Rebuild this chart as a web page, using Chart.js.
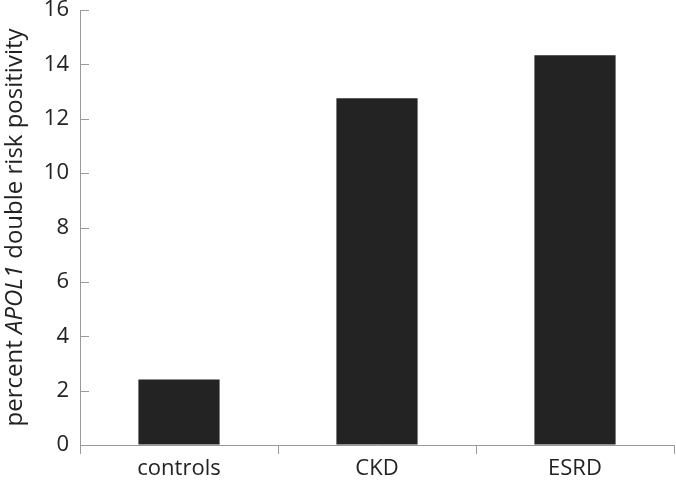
<!DOCTYPE html>
<html>
<head>
<meta charset="utf-8">
<script src="https://cdn.jsdelivr.net/npm/chart.js@4"></script>
<style>
  html, body { margin: 0; padding: 0; background: #fff; }
  #wrap { width: 676px; height: 483px; }
</style>
</head>
<body>
<div id="wrap"><canvas id="chart" width="676" height="483"></canvas></div>
<script>
const categories = ["controls", "CKD", "ESRD"];
const positivity = [2.41, 12.75, 14.34];
const yTicks = [0, 2, 4, 6, 8, 10, 12, 14, 16];

const fontFamily = "'Open Sans', 'Liberation Sans', sans-serif";
const axisColor = "#9a9a9a";
const textColor = "#222";

// y title with italic gene name, plus inward y tick marks
const extras = {
  id: "extras",
  afterDraw(chart) {
    const ctx = chart.ctx;
    const y = chart.scales.y;
    const area = chart.chartArea;

    ctx.save();
    ctx.strokeStyle = axisColor;
    ctx.lineWidth = 1;
    yTicks.forEach(v => {
      const py = Math.round(y.getPixelForValue(v)) + 0.5;
      ctx.beginPath();
      ctx.moveTo(area.left, py);
      ctx.lineTo(area.left + 9, py);
      ctx.stroke();
    });
    ctx.restore();

    const parts = [
      { t: "percent ", f: "normal 24px " + fontFamily },
      { t: "APOL1", f: "italic 24px " + fontFamily },
      { t: " double risk positivity", f: "normal 24px " + fontFamily }
    ];
    ctx.save();
    let total = 0;
    parts.forEach(p => { ctx.font = p.f; p.w = ctx.measureText(p.t).width; total += p.w; });
    const cy = (area.top + area.bottom) / 2;
    ctx.translate(15, cy);
    ctx.rotate(-Math.PI / 2);
    ctx.fillStyle = textColor;
    ctx.textBaseline = "middle";
    let x = -total / 2;
    parts.forEach(p => { ctx.font = p.f; ctx.fillText(p.t, x, 0); x += p.w; });
    ctx.restore();
  }
};

new Chart(document.getElementById("chart"), {
  type: "bar",
  data: {
    labels: categories,
    datasets: [{
      data: positivity,
      backgroundColor: "#232323",
      borderWidth: 0,
      barPercentage: 0.41,
      categoryPercentage: 1
    }]
  },
  options: {
    responsive: false,
    animation: false,
    layout: { padding: { top: 10, right: 2, left: 0, bottom: 0 } },
    plugins: {
      legend: { display: false },
      tooltip: { enabled: false }
    },
    scales: {
      x: {
        offset: true,
        grid: {
          display: true,
          offset: true,
          drawOnChartArea: false,
          drawTicks: true,
          tickLength: 9,
          color: axisColor
        },
        border: { display: true, color: axisColor, width: 1 },
        ticks: {
          color: textColor,
          font: { family: fontFamily, size: 22, lineHeight: 1 },
          padding: 4,
          maxRotation: 0
        },
        afterFit: s => { s.height = 38; s.paddingLeft = 0; s.paddingRight = 0; }
      },
      y: {
        min: 0,
        max: 16,
        afterBuildTicks: s => { s.ticks = yTicks.map(v => ({ value: v })); },
        grid: { display: true, drawOnChartArea: false, drawTicks: false, color: axisColor },
        border: { display: true, color: axisColor, width: 1 },
        ticks: {
          color: textColor,
          font: { family: fontFamily, size: 22, lineHeight: 1 },
          padding: 11
        },
        afterFit: s => { s.width = 80; s.paddingTop = 0; s.paddingBottom = 0; }
      }
    }
  },
  plugins: [extras]
});
</script>
</body>
</html>
